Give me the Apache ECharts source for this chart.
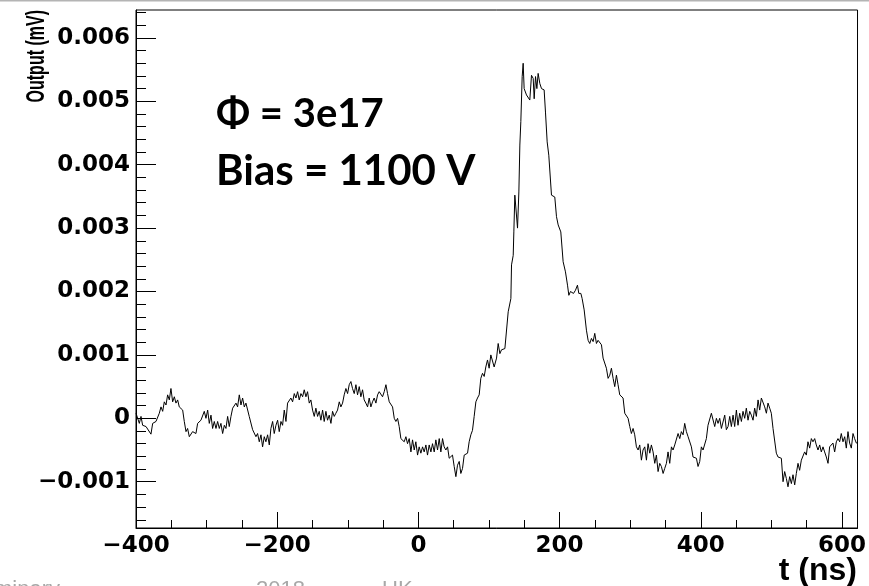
<!DOCTYPE html>
<html>
<head>
<meta charset="utf-8">
<script src="https://cdn.jsdelivr.net/npm/echarts@6/dist/echarts.min.js"></script>
<style>
html,body{margin:0;padding:0;background:#fff;}
#chart{width:869px;height:586px;}
</style>
</head>
<body>
<div id="chart"></div>
<script>
// ---- data: [time (ns), output (mV)] ----
const baselineSegment = [[-400.0,0.00008],[-397.6,0.00005],[-395.3,-0.00008],[-392.9,0.00003],[-390.6,-0.00011],[-388.2,-0.00008],[-385.8,-0.00013],[-383.5,-0.00011],[-378.8,-0.00025],[-376.4,-0.00008],[-374.0,-0.00011],[-371.7,-0.00005],[-369.3,-0.00008],[-367.0,0.00008],[-364.6,0.00018],[-362.2,0.00011],[-359.9,0.00026],[-357.5,0.00021],[-355.2,0.00037],[-352.8,0.00029],[-350.5,0.00047],[-348.1,0.00026],[-345.7,0.00034],[-343.4,0.00024],[-341.0,0.00029],[-338.7,0.00018],[-333.9,0.00013],[-331.6,-0.00005],[-329.2,-0.00021],[-326.9,-0.00016],[-324.5,-0.00029],[-322.1,-0.00026],[-319.8,-0.00021],[-317.4,-0.00018],[-315.1,-0.00024],[-312.7,-0.00008],[-310.3,-0.00011],[-308.0,-0.00003],[-305.6,-0.00005],[-303.3,0.00011],[-300.9,0.00000],[-298.5,0.00013],[-296.2,-0.00008],[-293.8,0.00005],[-291.5,-0.00016],[-289.1,-0.00005],[-286.7,-0.00016],[-284.4,-0.00005],[-282.0,-0.00016],[-279.7,-0.00008],[-277.3,-0.00024],[-274.9,-0.00011],[-272.6,-0.00016],[-270.2,0.00003],[-267.9,-0.00013],[-265.5,0.00003],[-263.1,0.00016],[-260.8,0.00013],[-258.4,0.00024],[-256.1,0.00018],[-253.7,0.00037],[-251.3,0.00021],[-249.0,0.00032],[-246.6,0.00018],[-244.3,0.00024],[-239.6,0.00003],[-237.2,0.00000],[-234.8,-0.00018],[-232.5,-0.00021],[-230.1,-0.00029],[-227.8,-0.00024],[-225.4,-0.00037],[-223.0,-0.00026],[-220.7,-0.00045],[-218.3,-0.00029],[-216.0,-0.00037],[-213.6,-0.00026],[-211.2,-0.00042],[-208.9,-0.00016],[-206.5,-0.00005],[-204.2,-0.00024],[-201.8,-0.00011],[-199.4,-0.00003],[-197.1,-0.00021],[-194.7,-0.00005],[-192.4,-0.00011],[-190.0,0.00013],[-187.6,-0.00005],[-185.3,0.00024],[-182.9,0.00026],[-180.6,0.00032],[-178.2,0.00026],[-175.8,0.00039],[-173.5,0.00032],[-171.1,0.00042],[-168.8,0.00029],[-166.4,0.00039],[-164.0,0.00034],[-161.7,0.00045],[-159.3,0.00034],[-157.0,0.00042],[-154.6,0.00024],[-152.3,0.00029],[-149.9,0.00013],[-147.5,0.00003],[-145.2,0.00016],[-142.8,0.00003],[-140.5,0.00011],[-138.1,-0.00003],[-135.7,0.00013],[-133.4,-0.00005],[-131.0,0.00011],[-128.7,-0.00003],[-126.3,0.00005],[-123.9,-0.00008],[-121.6,0.00011],[-119.2,0.00003],[-116.9,0.00008],[-114.5,0.00013],[-112.1,0.00026],[-109.8,0.00018],[-107.4,0.00024],[-105.1,0.00037],[-102.7,0.00047],[-100.3,0.00039],[-98.0,0.00053],[-95.6,0.00058],[-93.3,0.00047],[-90.9,0.00039],[-88.5,0.00053],[-86.2,0.00037],[-83.8,0.00050],[-81.5,0.00034],[-79.1,0.00045],[-76.8,0.00029],[-74.4,0.00024],[-72.0,0.00018],[-69.7,0.00032],[-67.3,0.00018],[-65.0,0.00026],[-62.6,0.00032],[-60.2,0.00024]];
const preRiseSegment = [[-57.8,0.00037],[-55.5,0.00042],[-53.1,0.00039],[-50.8,0.00034],[-48.4,0.00042],[-46.0,0.00053],[-43.7,0.00039],[-41.3,0.00026],[-39.0,0.00029],[-36.6,0.00018],[-34.2,0.00000],[-31.9,-0.00005],[-29.5,0.00000],[-27.2,-0.00013],[-24.8,-0.00032],[-22.4,-0.00029],[-20.1,-0.00037],[-17.7,-0.00029],[-15.4,-0.00040],[-13.0,-0.00032],[-10.6,-0.00053],[-8.3,-0.00034],[-5.9,-0.00050],[-3.6,-0.00037],[-1.2,-0.00058],[1.1,-0.00045],[3.5,-0.00055],[5.9,-0.00045],[8.2,-0.00053],[10.6,-0.00042],[12.9,-0.00058],[15.3,-0.00042],[17.7,-0.00053],[20.0,-0.00040],[22.4,-0.00053],[24.7,-0.00034],[27.1,-0.00050],[29.5,-0.00032],[31.8,-0.00053],[34.2,-0.00032],[36.5,-0.00045],[38.9,-0.00050],[41.3,-0.00045],[43.6,-0.00063],[46.0,-0.00061],[48.3,-0.00058],[50.7,-0.00076],[53.1,-0.00092],[55.4,-0.00074],[57.8,-0.00068],[60.1,-0.00087],[62.5,-0.00079],[64.9,-0.00058],[67.2,-0.00061],[69.6,-0.00055],[71.9,-0.00037],[74.3,-0.00026],[76.6,-0.00019],[79.0,0.00003],[81.4,0.00026],[83.7,0.00032],[86.1,0.00037],[88.4,0.00063],[90.8,0.00071],[93.2,0.00066],[95.5,0.00081],[97.9,0.00092],[100.2,0.00079],[102.6,0.00100],[105.0,0.00097],[107.3,0.00081]];
const pulseSegment = [[108.3,0.00079],[110.7,0.00095],[113.0,0.00118],[115.4,0.00102],[117.7,0.00108],[120.1,0.00105],[122.5,0.00110],[124.8,0.00113],[127.2,0.00168],[129.5,0.00171],[131.0,0.00189],[131.9,0.00242],[134.3,0.00257],[135.2,0.00294],[136.6,0.00352],[139.0,0.00355],[140.4,0.00300],[142.3,0.00357],[143.7,0.00431],[145.1,0.00468],[146.1,0.00468],[147.0,0.00539],[148.4,0.00560],[149.8,0.00520],[151.7,0.00523],[153.1,0.00510],[155.5,0.00512],[157.8,0.00502],[160.2,0.00541],[162.6,0.00536],[164.0,0.00504],[165.9,0.00539],[167.8,0.00520],[169.6,0.00544],[172.0,0.00528],[174.4,0.00520],[178.1,0.00518],[180.0,0.00483],[182.4,0.00436],[184.7,0.00415],[186.2,0.00413],[188.5,0.00352],[190.9,0.00349],[193.2,0.00349],[195.6,0.00318],[198.0,0.00305],[201.7,0.00294],[205.0,0.00247],[208.3,0.00231],[211.2,0.00210],[213.1,0.00194],[215.4,0.00200],[217.8,0.00202],[219.7,0.00197],[222.5,0.00202],[225.3,0.00210],[227.2,0.00197],[230.1,0.00197],[231.9,0.00189],[234.8,0.00171]];
const fallSegment = [[238.0,0.00139],[240.4,0.00123],[242.7,0.00118],[245.1,0.00126],[247.5,0.00121],[249.8,0.00134],[252.2,0.00118],[254.5,0.00123],[256.9,0.00121],[259.3,0.00116],[261.6,0.00095],[264.0,0.00092],[266.3,0.00079],[268.7,0.00063],[271.1,0.00068],[273.4,0.00079],[275.8,0.00063],[278.1,0.00050],[280.5,0.00068],[282.8,0.00053],[285.2,0.00037],[287.6,0.00039],[289.9,0.00032],[292.3,0.00008],[294.6,0.00005],[297.0,0.00000],[299.4,-0.00013],[301.7,-0.00024],[304.1,-0.00016],[306.4,-0.00026],[308.8,-0.00045],[311.2,-0.00050],[313.5,-0.00042],[315.9,-0.00066],[318.2,-0.00050],[320.6,-0.00045],[323.0,-0.00066],[325.3,-0.00040],[327.7,-0.00055],[330.0,-0.00042],[332.4,-0.00053],[334.8,-0.00071],[337.1,-0.00058],[339.5,-0.00084],[341.8,-0.00071],[344.2,-0.00076],[346.6,-0.00087],[348.9,-0.00079],[351.3,-0.00071],[353.6,-0.00053],[356.0,-0.00071],[358.4,-0.00045],[360.7,-0.00050],[363.1,-0.00042],[365.4,-0.00040],[367.8,-0.00024],[370.2,-0.00032],[372.5,-0.00021],[374.9,-0.00026],[377.2,-0.00008],[379.6,-0.00021],[382.0,-0.00029],[384.3,-0.00026],[386.7,-0.00045],[389.0,-0.00061],[391.4,-0.00058],[393.8,-0.00063],[396.1,-0.00076],[398.5,-0.00068]];
const tailSegment = [[400.8,-0.00045],[403.2,-0.00050],[405.6,-0.00053],[407.9,-0.00032],[410.2,-0.00011],[412.6,-0.00013],[415.0,0.00008],[417.4,0.00011],[419.7,-0.00013],[422.1,0.00000],[424.4,-0.00008],[426.8,0.00000],[429.2,-0.00016],[431.5,-0.00018],[433.9,0.00005],[436.2,-0.00018],[438.6,-0.00013],[441.0,0.00003],[443.3,-0.00013],[445.7,0.00005],[448.0,-0.00013],[450.4,0.00013],[452.7,-0.00011],[455.1,0.00008],[457.5,-0.00005],[459.8,0.00011],[462.2,0.00000],[464.5,0.00016],[466.9,-0.00003],[469.3,0.00011],[471.6,0.00005],[474.0,-0.00003],[476.3,0.00016],[478.7,0.00003],[481.1,0.00029],[483.4,0.00013],[485.8,0.00032],[488.1,0.00029],[490.5,0.00018],[492.9,0.00008],[495.2,0.00024],[497.6,0.00016],[499.9,0.00008],[502.3,-0.00016],[504.7,-0.00018],[507.0,-0.00055],[509.4,-0.00061],[511.7,-0.00063],[514.1,-0.00063],[516.5,-0.00100],[518.8,-0.00084],[521.2,-0.00095],[523.5,-0.00108],[525.9,-0.00092],[528.3,-0.00103],[530.6,-0.00089],[533.0,-0.00105],[535.3,-0.00087],[537.7,-0.00071],[540.0,-0.00082],[542.4,-0.00066],[544.8,-0.00066],[547.1,-0.00053],[549.5,-0.00058],[551.8,-0.00037],[554.2,-0.00047],[556.6,-0.00032],[558.9,-0.00037],[561.3,-0.00032],[563.6,-0.00042],[566.0,-0.00050],[568.4,-0.00042],[570.7,-0.00053],[573.1,-0.00045],[575.4,-0.00053],[577.8,-0.00061],[580.2,-0.00071],[582.5,-0.00045],[584.9,-0.00047],[587.2,-0.00039],[589.6,-0.00053],[592.0,-0.00037],[594.3,-0.00032],[596.7,-0.00037],[599.0,-0.00024],[601.4,-0.00037],[603.8,-0.00029],[606.1,-0.00047],[608.5,-0.00021],[610.8,-0.00039],[613.2,-0.00047],[615.6,-0.00024],[617.9,-0.00032],[620.3,-0.00039],[621.7,-0.00039]];

// ---- axes ----
const xRange = [-400, 622];
const yRange = [-0.00173, 0.00644];
const xTickLabels = [-400, -200, 0, 200, 400, 600];
const xMinorTicks = [-350, -300, -250, -150, -100, -50, 50, 100, 150, 250, 300, 350, 450, 500, 550];
const yTickLabels = [-0.001, 0, 0.001, 0.002, 0.003, 0.004, 0.005, 0.006];
const yMinorTicks = [-0.0016, -0.0014, -0.0012, -0.0008, -0.0006, -0.0004, -0.0002,
  0.0002, 0.0004, 0.0006, 0.0008, 0.0012, 0.0014, 0.0016, 0.0018,
  0.0022, 0.0024, 0.0026, 0.0028, 0.0032, 0.0034, 0.0036, 0.0038,
  0.0042, 0.0044, 0.0046, 0.0048, 0.0052, 0.0054, 0.0056, 0.0058, 0.0062, 0.0064];
const xTitle = 't (ns)';
const yTitle = 'Output (mV)';
const annotations = ['\u03A6 = 3e17', 'Bias = 1100 V'];
const footerFragments = ['Preliminary', '2018', 'UK'];

const waveform = [].concat(baselineSegment, preRiseSegment, pulseSegment, fallSegment, tailSegment);

const labelFont = {fontFamily: 'DejaVu Sans', fontWeight: 'bold', fontSize: 23, color: '#000'};
const fmtX = v => (v < 0 ? '\u2212' + Math.abs(v) : String(v));
const fmtY = v => (v === 0 ? '0' : (v < 0 ? '\u2212' : '') + Math.abs(v).toFixed(3));
const footerStyle = t => ({text: t, fontFamily: 'Liberation Sans', fontSize: 22, fill: '#a8a8a8'});

const chart = echarts.init(document.getElementById('chart'), null, {renderer: 'canvas'});
chart.setOption({
  animation: false,
  backgroundColor: '#fff',
  grid: {left: 136, right: 11, top: 10, bottom: 58, show: true, borderColor: '#000', borderWidth: 1, containLabel: false},
  xAxis: [
    {type: 'value', min: xRange[0], max: xRange[1], position: 'bottom',
     axisLine: {show: true, onZero: false, lineStyle: {color: '#000', width: 1}},
     axisTick: {show: true, inside: true, length: 16, lineStyle: {color: '#000'}, customValues: xTickLabels},
     axisLabel: Object.assign({show: true, margin: 7, customValues: xTickLabels, formatter: fmtX}, labelFont),
     splitLine: {show: false}},
    {type: 'value', min: xRange[0], max: xRange[1], position: 'bottom',
     axisLine: {show: false, onZero: false},
     axisTick: {show: true, inside: true, length: 8, lineStyle: {color: '#000'}, customValues: xMinorTicks},
     axisLabel: {show: false},
     splitLine: {show: false}}
  ],
  yAxis: [
    {type: 'value', min: yRange[0], max: yRange[1], position: 'left',
     axisLine: {show: true, onZero: false, lineStyle: {color: '#000', width: 1}},
     axisTick: {show: true, inside: true, length: 20, lineStyle: {color: '#000'}, customValues: yTickLabels},
     axisLabel: Object.assign({show: true, margin: 6, customValues: yTickLabels, formatter: fmtY}, labelFont),
     splitLine: {show: false}},
    {type: 'value', min: yRange[0], max: yRange[1], position: 'left',
     axisLine: {show: false, onZero: false},
     axisTick: {show: true, inside: true, length: 10, lineStyle: {color: '#000'}, customValues: yMinorTicks},
     axisLabel: {show: false},
     splitLine: {show: false}}
  ],
  series: [{
    type: 'line', xAxisIndex: 0, yAxisIndex: 0, data: waveform,
    showSymbol: false, symbol: 'none',
    lineStyle: {color: '#000', width: 1}
  }],
  graphic: [
    {type: 'rect', left: 0, top: 0, shape: {width: 869, height: 1.5}, style: {fill: '#b4b4b4'}, silent: true},
    {type: 'text', left: 216, top: 94, style: {text: annotations[0], fontFamily: 'Lato', fontWeight: 'bold', fontSize: 40, fill: '#000'}},
    {type: 'text', left: 216, top: 150, style: {text: annotations[1], fontFamily: 'Lato', fontWeight: 'bold', fontSize: 42, fill: '#000'}},
    {type: 'text', right: 12, top: 555, style: {text: xTitle, fontFamily: 'Liberation Sans', fontWeight: 'bold', fontSize: 32, fill: '#000'}},
    {type: 'text', x: 37, y: 10, rotation: Math.PI / 2, scaleX: 0.8, scaleY: 1.3,
     style: {text: yTitle, fontFamily: 'Liberation Sans', fontWeight: 'bold', fontSize: 20, fill: '#000', align: 'right', verticalAlign: 'middle', textAlign: 'right', textVerticalAlign: 'middle'}},
    {type: 'text', x: -50, y: 579, style: footerStyle(footerFragments[0])},
    {type: 'text', x: 256, y: 579, style: footerStyle(footerFragments[1])},
    {type: 'text', x: 382, y: 579, style: footerStyle(footerFragments[2])}
  ]
});
</script>
</body>
</html>
